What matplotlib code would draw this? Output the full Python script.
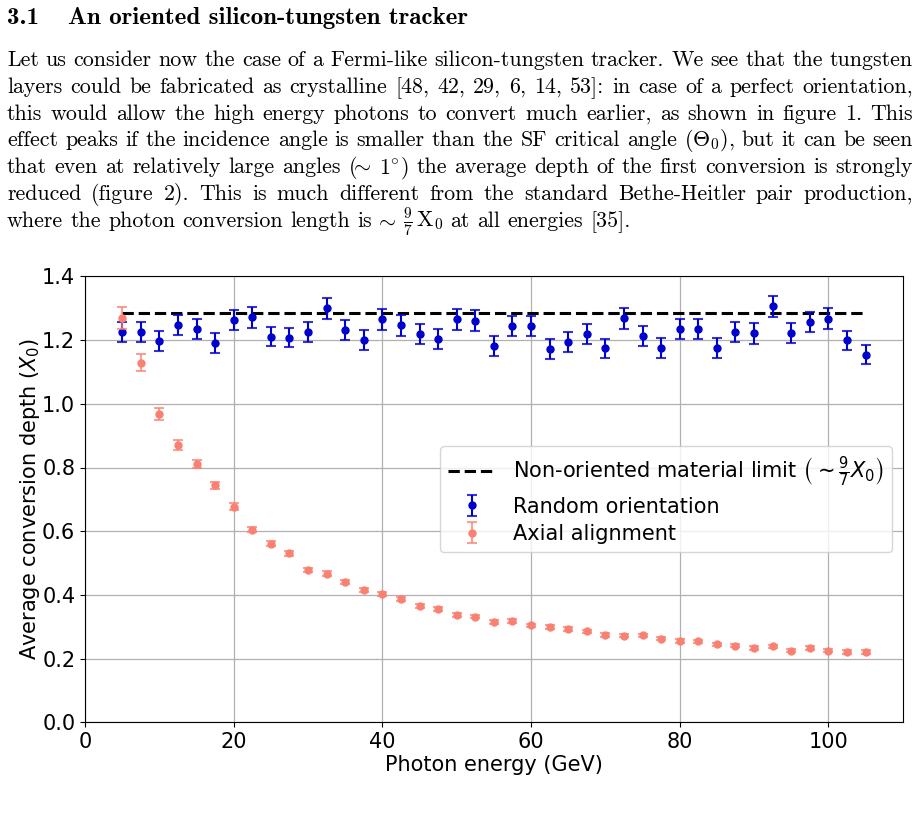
import matplotlib
matplotlib.use("Agg")
from matplotlib import pyplot as plt

# Données.
energy = [5, 7.5, 10, 12.5, 15, 17.5, 20, 22.5, 25, 27.5, 30, 32.5, 35, 37.5, 40,
          42.5, 45, 47.5, 50, 52.5, 55, 57.5, 60, 62.5, 65, 67.5, 70, 72.5, 75,
          77.5, 80, 82.5, 85, 87.5, 90, 92.5, 95, 97.5, 100, 102.5, 105]

random_depth = [1.225, 1.226, 1.197, 1.247, 1.234, 1.192, 1.263, 1.271, 1.211, 1.208,
                1.225, 1.300, 1.231, 1.201, 1.266, 1.246, 1.219, 1.203, 1.265, 1.261,
                1.181, 1.245, 1.245, 1.173, 1.193, 1.220, 1.174, 1.268, 1.212, 1.175,
                1.234, 1.234, 1.175, 1.225, 1.221, 1.306, 1.223, 1.256, 1.267, 1.199,
                1.154]
random_err = [0.032, 0.032, 0.031, 0.032, 0.032, 0.031, 0.032, 0.033, 0.031, 0.031,
              0.032, 0.033, 0.032, 0.031, 0.033, 0.032, 0.031, 0.031, 0.033, 0.032,
              0.031, 0.032, 0.032, 0.031, 0.031, 0.032, 0.031, 0.033, 0.031, 0.031,
              0.032, 0.032, 0.031, 0.032, 0.032, 0.033, 0.032, 0.032, 0.033, 0.031,
              0.030]

axial_depth = [1.270, 1.129, 0.967, 0.871, 0.810, 0.744, 0.676, 0.605, 0.561, 0.531,
               0.479, 0.467, 0.441, 0.416, 0.404, 0.387, 0.365, 0.357, 0.337, 0.331,
               0.315, 0.318, 0.305, 0.299, 0.293, 0.286, 0.274, 0.272, 0.273, 0.262,
               0.255, 0.254, 0.245, 0.240, 0.233, 0.239, 0.225, 0.233, 0.225, 0.221,
               0.221]
axial_err = [0.035, 0.027, 0.019, 0.016, 0.013, 0.012, 0.011, 0.009, 0.008, 0.008,
             0.007, 0.007, 0.007, 0.006, 0.006, 0.006, 0.006, 0.006, 0.005, 0.005,
             0.005, 0.005, 0.005, 0.005, 0.005, 0.005, 0.005, 0.005, 0.005, 0.005,
             0.005, 0.005, 0.005, 0.005, 0.005, 0.005, 0.005, 0.005, 0.005, 0.005,
             0.005]

limit = 9 / 7

# Texte de la page (une liste de lignes, dernière ligne non justifiée).
title_num = "3.1"
title_txt = "An oriented silicon-tungsten tracker"
body_lines = [
    "Let us consider now the case of a Fermi-like silicon-tungsten tracker. We see that the tungsten",
    "layers could be fabricated as crystalline [48, 42, 29, 6, 14, 53]: in case of a perfect orientation,",
    "this would allow the high energy photons to convert much earlier, as shown in figure 1. This",
    r"effect peaks if the incidence angle is smaller than the SF critical angle ($\Theta_0$), but it can be seen",
    r"that even at relatively large angles ($\!\!\sim$ $1^{\circ}$) the average depth of the first conversion is strongly",
    "reduced (figure 2). This is much different from the standard Bethe-Heitler pair production,",
    r"where the photon conversion length is $\!\!\sim$ $\frac{9}{7}\,\mathrm{X}_0$ at all energies [35].",
]

W, H = 920, 817
fig = plt.figure(figsize=(W / 100, H / 100), dpi=100)
renderer = fig.canvas.get_renderer()

BODY_SIZE = 15.8
LEFT, RIGHT = 7, 913


def word_width(t):
    return t.get_window_extent(renderer).width


def put_line(line, y_px, justify):
    words = line.split(" ")
    texts = [fig.text(0, 1 - y_px / H, w, fontsize=BODY_SIZE, family="cmr10",
                      math_fontfamily="cm", va="baseline") for w in words]
    widths = [word_width(t) for t in texts]
    if justify and len(words) > 1:
        gap = (RIGHT - LEFT - sum(widths)) / (len(words) - 1)
    else:
        probe = fig.text(0, 0, "a a", fontsize=BODY_SIZE, family="cmr10")
        probe2 = fig.text(0, 0, "aa", fontsize=BODY_SIZE, family="cmr10")
        gap = word_width(probe) - word_width(probe2)
        probe.remove()
        probe2.remove()
    x = LEFT
    for t, w in zip(texts, widths):
        t.set_x(x / W)
        x += w + gap


fig.text(7 / W, 1 - 24 / H, title_num, fontsize=18, family="cmb10", va="baseline")
fig.text(68 / W, 1 - 24 / H, title_txt, fontsize=18, family="cmb10", va="baseline")

for i, line in enumerate(body_lines):
    put_line(line, 66 + i * 26.8, justify=(i < len(body_lines) - 1))

# Le graphique.
ax = fig.add_axes([85 / W, 1 - 722.3 / H, (902.7 - 85) / W, (722.3 - 276.4) / H])

ax.plot([energy[0], energy[-1]], [limit, limit], "k--", lw=2.2,
        label=r"Non-oriented material limit $\left(\sim\frac{9}{7}X_0\right)$")

_, caps, bars = ax.errorbar(energy, random_depth, yerr=random_err, fmt="o",
                            color="mediumblue", ms=5, capsize=3.5, elinewidth=1.5,
                            capthick=1.5, label="Random orientation", zorder=3)
for c in caps:
    c.set_alpha(0.8)

_, caps, bars = ax.errorbar(energy, axial_depth, yerr=axial_err, fmt="o",
                            color="salmon", ms=5, capsize=3.5, elinewidth=1.5,
                            capthick=1.5, label="Axial alignment", zorder=4)
for c in caps:
    c.set_alpha(0.75)
for b in bars:
    b.set_alpha(0.75)

ax.set_xlim(0, 110)
ax.set_ylim(0, 1.4)
ax.grid(True, color="#b0b0b0", lw=0.9)
ax.set_axisbelow(True)
ax.tick_params(labelsize=15)
ax.set_xlabel("Photon energy (GeV)", fontsize=15, labelpad=2)
ax.set_ylabel(r"Average conversion depth ($X_0$)", fontsize=15, labelpad=0)
ax.legend(loc="center right", fontsize=15, handlelength=2.3, labelspacing=0.35)

fig.savefig("out.png", dpi=100)
